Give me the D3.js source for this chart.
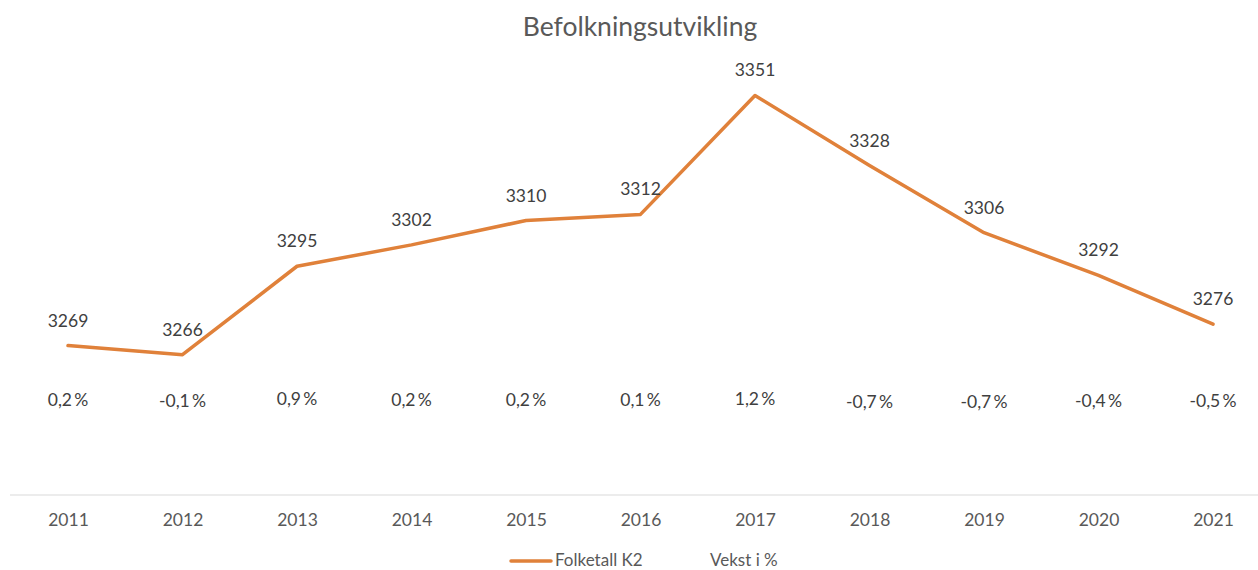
<!DOCTYPE html>
<html>
<head>
<meta charset="utf-8">
<script src="https://cdn.jsdelivr.net/npm/d3@7"></script>
<style>
  body { margin: 0; background: #fff; }
  text { font-family: Lato, "Open Sans", sans-serif; }
</style>
</head>
<body>
<script>
var years = ["2011", "2012", "2013", "2014", "2015", "2016", "2017", "2018", "2019", "2020", "2021"];
var folketall = [3269, 3266, 3295, 3302, 3310, 3312, 3351, 3328, 3306, 3292, 3276];
var vekst = [0.2, -0.1, 0.9, 0.2, 0.2, 0.1, 1.2, -0.7, -0.7, -0.4, -0.5];

var width = 1258, height = 570;

var svg = d3.select("body").append("svg")
    .attr("width", width)
    .attr("height", height);

var x = d3.scalePoint().domain(years).range([68, 1213]);
// secondary axis for population (hidden)
var y = d3.scaleLinear().domain([3220, 3360]).range([495, 68]);
// primary axis for growth (hidden), values sit near zero
var y2 = d3.scaleLinear().domain([-55, 235]).range([495, 60]);

// title
svg.append("text")
    .attr("x", 640).attr("y", 36)
    .attr("text-anchor", "middle")
    .style("font-size", "26.5px")
    .style("fill", "#595959")
    .text("Befolkningsutvikling");

// category axis
var xAxis = svg.append("g")
    .attr("transform", "translate(0,495)")
    .call(d3.axisBottom(x).tickSize(0).tickPadding(19));
xAxis.select(".domain").remove();
xAxis.append("line")
    .attr("x1", 10).attr("x2", 1258)
    .attr("stroke", "#d9d9d9").attr("stroke-width", 1);
xAxis.selectAll(".tick text")
    .style("font-family", "Lato, sans-serif")
    .style("font-size", "17.5px")
    .style("fill", "#595959");

// population line
var line = d3.line()
    .x(function (d, i) { return x(years[i]); })
    .y(function (d) { return y(d); });

svg.append("path")
    .datum(folketall)
    .attr("d", line)
    .attr("fill", "none")
    .attr("stroke", "#E0813A")
    .attr("stroke-width", 3.5)
    .attr("stroke-linejoin", "round")
    .attr("stroke-linecap", "round");

svg.append("g").selectAll("text")
    .data(folketall)
    .enter().append("text")
    .attr("x", function (d, i) { return x(years[i]); })
    .attr("y", function (d) { return y(d) - 19; })
    .attr("text-anchor", "middle")
    .style("font-size", "17.5px")
    .style("fill", "#404040")
    .text(function (d) { return d; });

// growth labels (series has no visible line)
svg.append("g").selectAll("text")
    .data(vekst)
    .enter().append("text")
    .attr("x", function (d, i) { return x(years[i]); })
    .attr("y", function (d) { return y2(d) - 6; })
    .attr("text-anchor", "middle")
    .style("font-size", "17.5px")
    .style("fill", "#404040")
    .text(function (d) { return d.toFixed(1).replace(".", ",") + "\u2009%"; });

// legend
var legend = svg.append("g");
legend.append("line")
    .attr("x1", 511).attr("x2", 551)
    .attr("y1", 561).attr("y2", 561)
    .attr("stroke", "#E0813A").attr("stroke-width", 3.5)
    .attr("stroke-linecap", "round");
legend.append("text")
    .attr("x", 555).attr("y", 560)
    .attr("dy", "0.35em")
    .style("font-size", "17px")
    .style("fill", "#595959")
    .text("Folketall K2");
legend.append("text")
    .attr("x", 710).attr("y", 560)
    .attr("dy", "0.35em")
    .style("font-size", "17px")
    .style("fill", "#595959")
    .text("Vekst i %");
</script>
</body>
</html>
